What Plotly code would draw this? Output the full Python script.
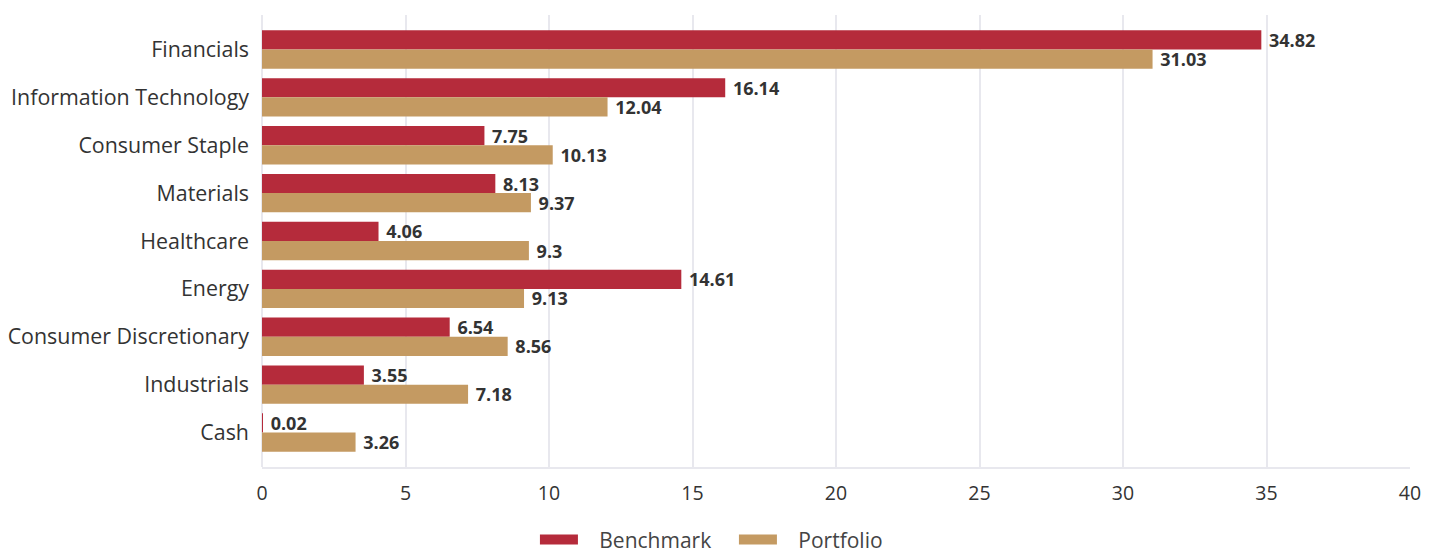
import plotly.graph_objects as go

categories = ["Financials", "Information Technology", "Consumer Staple", "Materials",
              "Healthcare", "Energy", "Consumer Discretionary", "Industrials", "Cash"]
benchmark = [34.82, 16.14, 7.75, 8.13, 4.06, 14.61, 6.54, 3.55, 0.02]
portfolio = [31.03, 12.04, 10.13, 9.37, 9.3, 9.13, 8.56, 7.18, 3.26]
x_ticks = [0, 5, 10, 15, 20, 25, 30, 35, 40]

FONT = "Open Sans"
RED = "#b52b3b"
TAN = "#c49a62"
fig = go.Figure()
for name, vals, col in [("Benchmark", benchmark, RED), ("Portfolio", portfolio, TAN)]:
    fig.add_trace(go.Bar(
        name=name, y=categories, x=vals, orientation="h",
        marker=dict(color=col, line=dict(width=0)),
        text=[" " + str(v) for v in vals], textposition="outside", cliponaxis=False,
        constraintext="none",
        textfont=dict(family=FONT, size=18, color="#333333", weight="bold"),
        showlegend=False, legendgroup=name,
    ))
# legend proxies (pill-shaped swatches)
for name, col in [("Benchmark", RED), ("Portfolio", TAN)]:
    fig.add_trace(go.Scatter(
        name="   " + name, x=[None], y=[None], mode="lines",
        line=dict(color=col, width=14), legendgroup=name, showlegend=True,
    ))

# page body has an 8px margin; size the figure to fit the window
fig.update_layout(
    width=1428, height=545,
    margin=dict(l=254, r=26, t=7, b=86, autoexpand=False),
    barmode="group", bargap=0.2, bargroupgap=0,
    plot_bgcolor="white", paper_bgcolor="white",
    font=dict(family=FONT, color="#333333"),
    showlegend=True,
    legend=dict(orientation="h", x=0.369, xanchor="left", xref="container",
                y=0.024, yanchor="middle", yref="container",
                font=dict(size=21, color="#444444"), itemwidth=38,
                entrywidth=146, entrywidthmode="pixels",
                traceorder="normal"),
)
fig.update_xaxes(
    range=[0, 40], tickvals=x_ticks, ticktext=[str(t) for t in x_ticks],
    showgrid=True, gridcolor="#e8e8ee", gridwidth=2,
    zeroline=True, zerolinecolor="#e8e8ee", zerolinewidth=2,
    showline=True, linecolor="#e8e8ee", linewidth=2,
    tickfont=dict(size=19.5, color="#333333"), ticks="", ticklen=0,
    automargin=False, ticklabelstandoff=8,
)
fig.update_yaxes(
    categoryorder="array", categoryarray=categories,
    range=[8.72, -0.72], showgrid=False, zeroline=False,
    tickfont=dict(size=21.4, color="#333333"), ticks="", ticklabelstandoff=12,
    automargin=False,
)
fig.write_html("out.html")
